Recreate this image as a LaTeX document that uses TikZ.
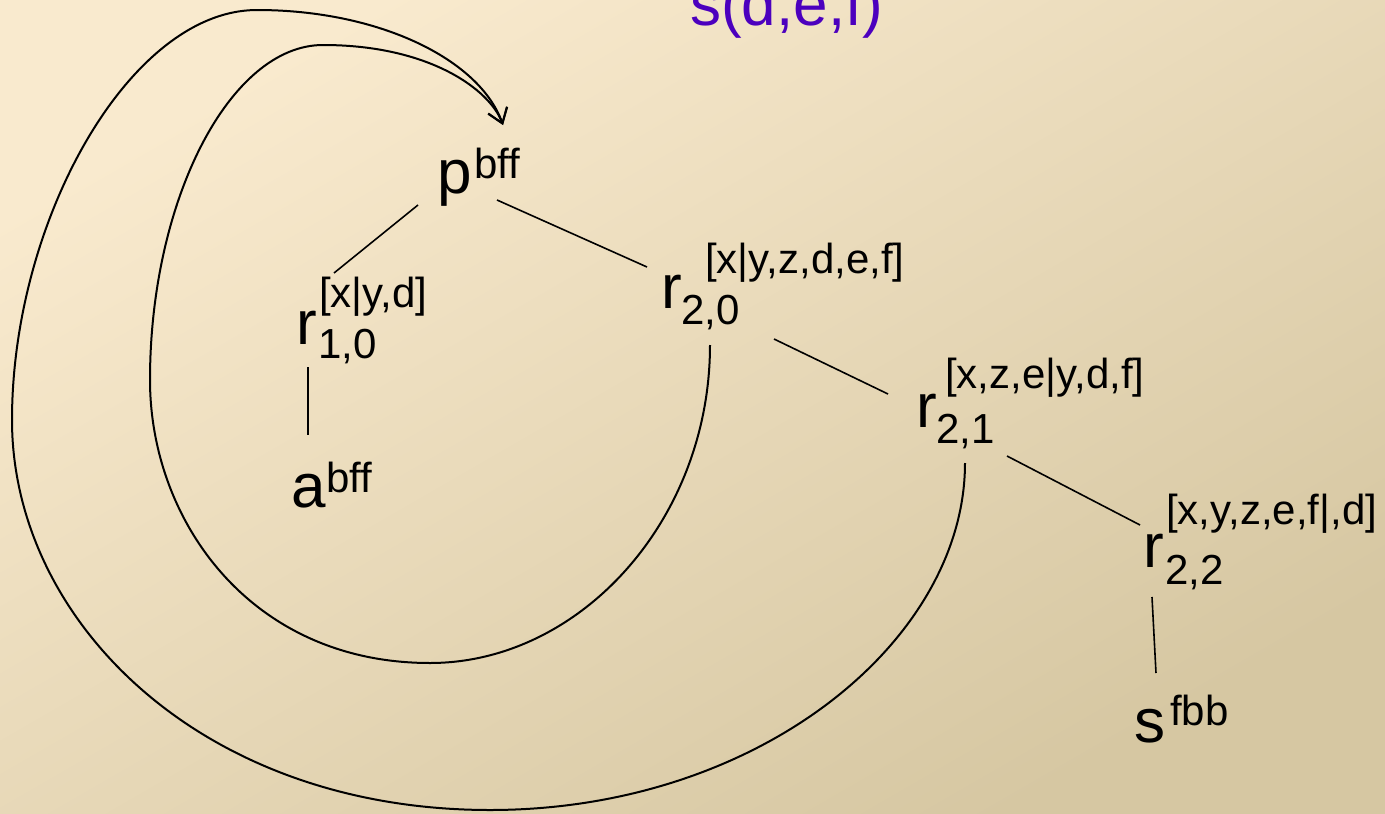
\documentclass[tikz,border=0pt]{standalone}
\usepackage{fontspec}
\setmainfont{Liberation Sans}
\usetikzlibrary{arrows.meta}
\definecolor{bgTL}{RGB}{249,234,206}
\definecolor{bgBR}{RGB}{214,199,162}
\definecolor{purp}{RGB}{76,0,190}
\begin{document}
\begin{tikzpicture}[x=1pt,y=-1pt,
  bigtxt/.style={anchor=base west,inner sep=0pt,font=\fontsize{62}{70}\selectfont},
  smalltxt/.style={anchor=base west,inner sep=0pt,font=\fontsize{42}{48}\selectfont},
  edge/.style={line width=1.6pt},
  loop/.style={line width=2pt,-{Straight Barb[length=14pt,width=20pt,line width=2pt]}}]
\shade[top color=bgTL,bottom color=bgBR,shading angle=30] (0,0) rectangle (1385,814);
\useasboundingbox (0,0) rectangle (1385,814);

% title
\node[bigtxt,text=purp] (title) at (690,25) {s(d,e,f)};

% p
\node[bigtxt] (p) at (437,193) {p};
\node[smalltxt] (psup) at (474,178) {bff};
% r10
\node[bigtxt] (r10) at (296,344) {r};
\node[smalltxt] (r10sub) at (318,358) {1,0};
\node[smalltxt] (r10sup) at (319,307) {[x|y,d]};
% a
\node[bigtxt] (a) at (291,507) {a};
\node[smalltxt] (asup) at (326,492) {bff};
% r20
\node[bigtxt] (r20) at (661,308) {r};
\node[smalltxt] (r20sub) at (681,324) {2,0};
\node[smalltxt] (r20sup) at (705,273) {[x|y,z,d,e,f]};
% r21
\node[bigtxt] (r21) at (916,427) {r};
\node[smalltxt] (r21sub) at (936,443) {2,1};
\node[smalltxt] (r21sup) at (945,388) {[x,z,e|y,d,f]};
% r22
\node[bigtxt] (r22) at (1143,567) {r};
\node[smalltxt] (r22sub) at (1165,584) {2,2};
\node[smalltxt] (r22sup) at (1166,524) {[x,y,z,e,f|,d]};
% s
\node[bigtxt] (s) at (1134,742) {s};
\node[smalltxt] (ssup) at (1170,725) {fbb};

% connector endpoints
\coordinate (p-l) at (418,205);
\coordinate (r10-t) at (334,273);
\coordinate (p-r) at (497,200);
\coordinate (r20-t) at (647,267);
\coordinate (r10-b) at (308,367);
\coordinate (a-t) at (308,435);
\coordinate (r20-r) at (774,339);
\coordinate (r21-t) at (888,394);
\coordinate (r21-r) at (1007,456);
\coordinate (r22-t) at (1140,525);
\coordinate (r22-b) at (1152,597);
\coordinate (s-t) at (1156,673);
\coordinate (r20-b) at (710,345);
\coordinate (r21-b) at (965,463);
\coordinate (p-top) at (503,125);

\draw[edge] (p-l) -- (r10-t);
\draw[edge] (p-r) -- (r20-t);
\draw[edge] (r10-b) -- (a-t);
\draw[edge] (r20-r) -- (r21-t);
\draw[edge] (r21-r) -- (r22-t);
\draw[edge] (r22-b) -- (s-t);

% inner loop
\draw[loop] (r20-b) .. controls (710,520) and (580,663) .. (430,663)
  .. controls (250,663) and (150,520) .. (150,380)
  .. controls (150,200) and (230,45) .. (323,45)
  .. controls (430,45) and (490,90) .. (p-top);
% outer loop
\draw[loop] (r21-b) .. controls (965,640) and (760,810) .. (490,810)
  .. controls (200,810) and (12,620) .. (12,420)
  .. controls (12,220) and (130,10) .. (257,10)
  .. controls (380,10) and (480,60) .. (p-top);
\end{tikzpicture}
\end{document}
